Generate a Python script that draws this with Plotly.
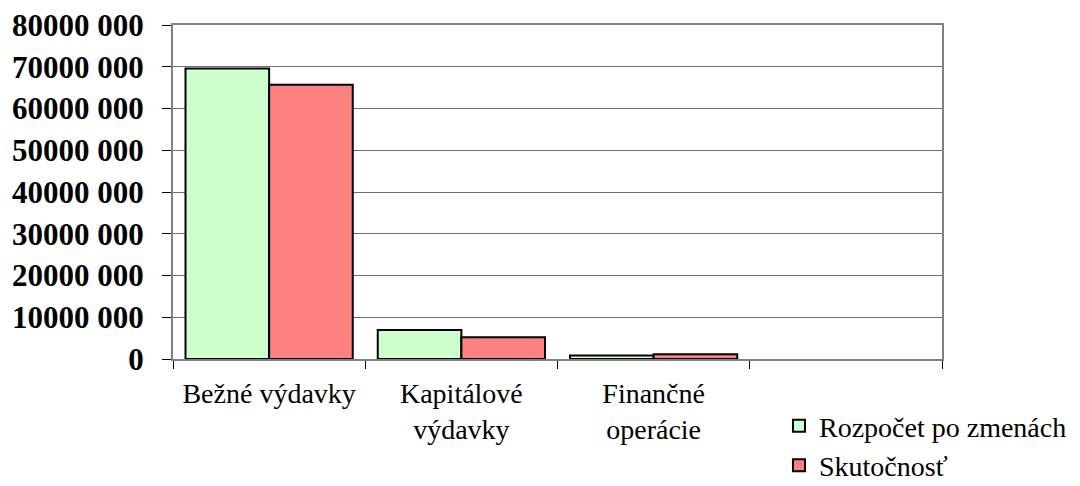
import plotly.graph_objects as go

categories = ["Bežné výdavky", "Kapitálové<br>výdavky", "Finančné<br>operácie", " "]
rozpocet = [69600000, 6950000, 850000, None]
skutocnost = [65700000, 5200000, 1150000, None]
y_ticks = [0, 10000000, 20000000, 30000000, 40000000, 50000000, 60000000, 70000000, 80000000]
y_labels = ["0", "10000 000", "20000 000", "30000 000", "40000 000",
            "50000 000", "60000 000", "70000 000", "80000 000"]

SERIF = "Liberation Serif"

fig = go.Figure()
fig.add_trace(go.Bar(x=categories, y=rozpocet, name="Rozpočet po zmenách",
                     marker=dict(color="#CCFFCC", line=dict(color="black", width=2))))
fig.add_trace(go.Bar(x=categories, y=skutocnost, name="Skutočnosť",
                     marker=dict(color="#FF8080", line=dict(color="black", width=2))))

# page has an 8px body margin, so the figure is 8px smaller and shifted
fig.update_layout(
    width=1072, height=478,
    margin=dict(l=165, r=138, t=17, b=127, autoexpand=False),
    paper_bgcolor="white", plot_bgcolor="white",
    barmode="group", bargap=0.13, bargroupgap=0,
    font=dict(family=SERIF, color="black"),
    showlegend=True,
    legend=dict(x=0.788, y=-0.126, xanchor="left", yanchor="top",
                font=dict(size=28, family=SERIF), tracegroupgap=0,
                itemwidth=30, bgcolor="rgba(0,0,0,0)"),
)
fig.update_xaxes(
    type="category", tickson="boundaries", ticks="outside", ticklen=8,
    tickcolor="black", showline=True, linecolor="#808080", linewidth=2,
    mirror=True, tickfont=dict(size=28, family=SERIF), showgrid=False,
    automargin=False, ticklabelstandoff=8,
)
fig.update_yaxes(
    range=[0, 80000000], tickvals=y_ticks,
    ticktext=["<b>" + t + "</b>" for t in y_labels],
    ticks="outside", ticklen=9, tickcolor="black",
    showline=True, linecolor="#808080", linewidth=2, mirror=True,
    showgrid=True, gridcolor="#707070", gridwidth=1,
    tickfont=dict(size=31, family=SERIF), ticklabeloverflow="allow",
    zeroline=False, automargin=False, ticklabelstandoff=12,
)

fig.write_html("out.html")
